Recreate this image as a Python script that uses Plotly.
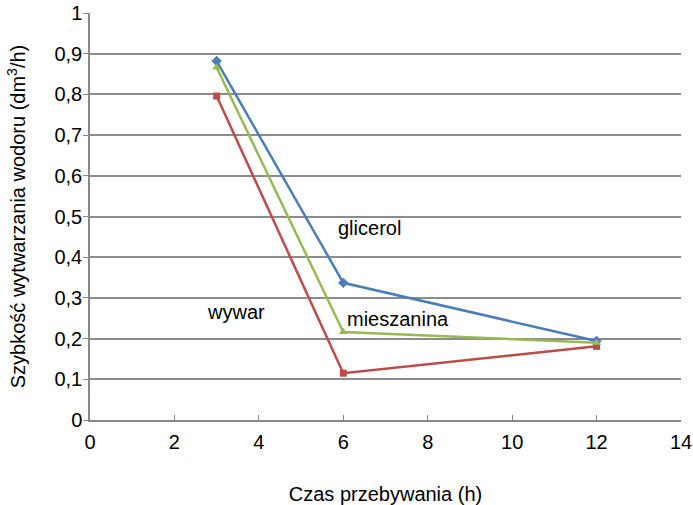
import plotly.graph_objects as go

x_vals = [3, 6, 12]
glicerol = [0.882, 0.337, 0.194]
wywar = [0.796, 0.115, 0.181]
mieszanina = [0.866, 0.216, 0.190]

labels = ["glicerol", "wywar", "mieszanina"]
label_x = [6.62, 3.47, 7.3]
label_y = [0.471, 0.265, 0.248]

FONT = "Liberation Sans, Arial, sans-serif"

fig = go.Figure()
fig.add_trace(go.Scatter(x=x_vals, y=glicerol, mode="lines+markers", name="glicerol",
                         line=dict(color="#4a7ebb", width=2.5),
                         marker=dict(symbol="diamond", size=8, color="#4a7ebb")))
fig.add_trace(go.Scatter(x=x_vals, y=wywar, mode="lines+markers", name="wywar",
                         line=dict(color="#be4b48", width=2.5),
                         marker=dict(symbol="square", size=7, color="#be4b48")))
fig.add_trace(go.Scatter(x=x_vals, y=mieszanina, mode="lines+markers", name="mieszanina",
                         line=dict(color="#98b954", width=2.5),
                         marker=dict(symbol="triangle-up", size=8, color="#98b954")))

for t, lx, ly in zip(labels, label_x, label_y):
    fig.add_annotation(x=lx, y=ly, text=t, showarrow=False,
                       font=dict(family=FONT, size=20, color="#000000"))

fig.update_layout(
    width=693, height=505,
    margin=dict(l=90, r=12, t=13, b=85, autoexpand=False),
    paper_bgcolor="white", plot_bgcolor="white",
    showlegend=False,
    separators=", ",
    font=dict(family=FONT, size=20, color="#000000"),
)
fig.update_xaxes(range=[0, 14], dtick=2, tick0=0, showgrid=False, zeroline=False,
                 automargin=False,
                 showline=True, linecolor="#888888", linewidth=1.5,
                 ticks="inside", ticklen=5, tickcolor="#888888", tickwidth=1,
                 ticklabelstandoff=3,
                 title=dict(text="Czas przebywania (h)", standoff=35,
                            font=dict(family=FONT, size=20)))
fig.update_yaxes(range=[0, 1], dtick=0.1, tick0=0, showgrid=True, gridcolor="#8c8c8c",
                 gridwidth=1.5, zeroline=False, automargin=False,
                 showline=True, linecolor="#888888", linewidth=1.5,
                 ticks="outside", ticklen=5, tickcolor="#888888", tickwidth=1,
                 ticklabelstandoff=-3,
                 title=dict(text="Szybkość wytwarzania wodoru (dm<sup>3</sup>/h)", standoff=23,
                            font=dict(family=FONT, size=20)))

fig.write_html("out.html", config={"displayModeBar": False},
               post_script="document.body.style.margin='0';")
